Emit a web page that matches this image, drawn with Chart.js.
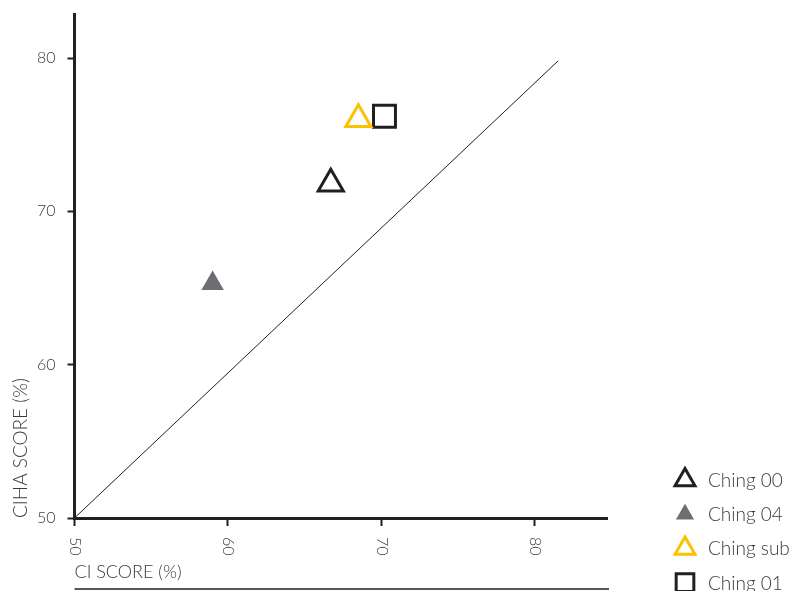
<!DOCTYPE html>
<html>
<head>
<meta charset="utf-8">
<script src="https://cdn.jsdelivr.net/npm/chart.js@4.4.1/dist/chart.umd.min.js"></script>
<style>
  html, body { margin: 0; padding: 0; background: #fff; }
  #contenedor { width: 794px; height: 591px; }
</style>
</head>
<body>
<div id="contenedor"><canvas id="grafica"></canvas></div>
<script>
// datos
const series = ["Ching 00", "Ching 04", "Ching sub", "Ching 01"];
const ciScore = [66.7, 59.0, 68.5, 70.2];
const cihaScore = [71.8, 65.3, 76.0, 76.2];
const xTicks = [50, 60, 70, 80];
const yTicks = [50, 60, 70, 80];
const lineaX = [50, 81.5];
const lineaY = [50, 79.8];

// estilos
const negro = "#231f20";
const texto = "#3a3a3c";
const fuente = "Lato, 'Open Sans', sans-serif";
const estilos = [
  { pointStyle: "triangle", radius: 14.5, fill: "rgba(0,0,0,0)", stroke: negro, width: 3, legendRadius: 11.5 },
  { pointStyle: "triangle", radius: 13, fill: "#6d6e71", stroke: "#6d6e71", width: 0, legendRadius: 10.5 },
  { pointStyle: "triangle", radius: 14.5, fill: "rgba(0,0,0,0)", stroke: "#fcc200", width: 3, legendRadius: 11.5 },
  { pointStyle: "rect", radius: 15.5, fill: "rgba(0,0,0,0)", stroke: negro, width: 3, legendRadius: 12.5 }
];

const datasets = series.map((nombre, i) => ({
  label: nombre,
  data: [{ x: ciScore[i], y: cihaScore[i] }],
  pointStyle: estilos[i].pointStyle,
  pointRadius: estilos[i].radius,
  pointHoverRadius: estilos[i].radius,
  backgroundColor: estilos[i].fill,
  borderColor: estilos[i].stroke,
  pointBorderWidth: estilos[i].width
}));

// diagonal de referencia, va al final para quedar debajo
datasets.push({
  label: "ref",
  data: lineaX.map((x, i) => ({ x: x, y: lineaY[i] })),
  showLine: true,
  borderColor: negro,
  borderWidth: 1,
  pointRadius: 0,
  pointHoverRadius: 0
});

// etiquetas del eje x giradas, regla inferior y leyenda
const extras = {
  id: "extras",
  afterDraw(chart) {
    const ctx = chart.ctx;
    const xs = chart.scales.x;
    const area = chart.chartArea;

    ctx.save();
    ctx.fillStyle = texto;
    ctx.font = "300 16px " + fuente;
    ctx.textAlign = "left";
    ctx.textBaseline = "middle";
    xTicks.forEach(v => {
      const px = xs.getPixelForValue(v);
      ctx.save();
      ctx.translate(px + 0.5, area.bottom + 19);
      ctx.rotate(Math.PI / 2);
      ctx.fillText(String(v), 0, 0);
      ctx.restore();
    });
    ctx.restore();

    ctx.save();
    ctx.strokeStyle = negro;
    ctx.lineWidth = 1.5;
    ctx.beginPath();
    ctx.moveTo(area.left, 589);
    ctx.lineTo(area.right + 2, 589);
    ctx.stroke();
    ctx.restore();

    const mx = area.right + 78;
    const tx = area.right + 101;
    series.forEach((nombre, i) => {
      const cy = 480 + i * 34.2;
      const e = estilos[i];
      ctx.save();
      ctx.fillStyle = e.fill;
      ctx.strokeStyle = e.stroke;
      ctx.lineWidth = e.width;
      Chart.helpers.drawPoint(ctx, {
        pointStyle: e.pointStyle,
        radius: e.legendRadius,
        rotation: 0,
        borderWidth: e.width
      }, mx, cy);
      ctx.restore();
      ctx.save();
      ctx.fillStyle = texto;
      ctx.font = "300 19px " + fuente;
      ctx.textAlign = "left";
      ctx.textBaseline = "alphabetic";
      ctx.fillText(nombre, tx, cy + 7);
      ctx.restore();
    });
  }
};

new Chart(document.getElementById("grafica"), {
  type: "scatter",
  data: { datasets: datasets },
  options: {
    responsive: true,
    maintainAspectRatio: false,
    animation: false,
    layout: { autoPadding: false, padding: { left: 0, top: 14, right: 187, bottom: 0 } },
    plugins: {
      legend: { display: false },
      tooltip: { enabled: false }
    },
    scales: {
      x: {
        type: "linear",
        min: 50,
        max: 84.7,
        afterBuildTicks: s => { s.ticks = xTicks.map(v => ({ value: v })); },
        afterFit: s => { s.height = 73; s.paddingLeft = 0; s.paddingRight = 0; },
        border: { display: true, color: negro, width: 3 },
        grid: { drawOnChartArea: false, drawTicks: true, tickLength: 8, tickColor: negro, tickWidth: 2 },
        ticks: { color: "rgba(0,0,0,0)", minRotation: 90, maxRotation: 90, font: { family: fuente, size: 16 } },
        title: {
          display: true,
          text: "CI SCORE (%)",
          align: "start",
          color: texto,
          font: { family: fuente, size: 18, weight: 300 },
          padding: { top: 0, bottom: 8 }
        }
      },
      y: {
        type: "linear",
        min: 50,
        max: 82.87,
        afterBuildTicks: s => { s.ticks = yTicks.map(v => ({ value: v })); },
        afterFit: s => { s.width = 74.5; s.paddingTop = 0; s.paddingBottom = 0; },
        border: { display: true, color: negro, width: 3 },
        grid: { drawOnChartArea: false, drawTicks: true, tickLength: 7, tickColor: negro, tickWidth: 2 },
        ticks: { color: texto, padding: 12, font: { family: fuente, size: 16, weight: 300 } },
        title: {
          display: true,
          text: "CIHA SCORE (%)",
          align: "start",
          color: texto,
          font: { family: fuente, size: 19, weight: 300 },
          padding: { top: 9, bottom: 0 }
        }
      }
    }
  },
  plugins: [extras]
});
</script>
</body>
</html>
